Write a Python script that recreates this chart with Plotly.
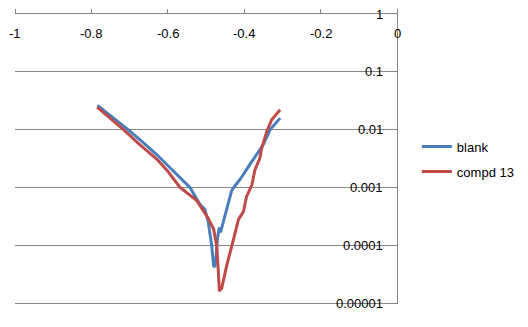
import math
import plotly.graph_objects as go

# ---- data ----
blank_x = [-0.784, -0.745, -0.704, -0.665, -0.629, -0.585, -0.542, -0.516, -0.503, -0.494,
           -0.485, -0.480, -0.477, -0.474, -0.470, -0.466, -0.464, -0.462, -0.455, -0.446,
           -0.433, -0.424, -0.41, -0.385, -0.35, -0.332, -0.306]
blank_y = [0.0263, 0.0166, 0.010, 0.0060, 0.0037, 0.0019, 0.0010, 0.00051, 0.00042, 0.00025,
           0.000098, 0.000044, 0.000042, 0.000058, 0.000129, 0.00019, 0.0002, 0.000166, 0.00025, 0.00042,
           0.00087, 0.00107, 0.0014, 0.0025, 0.0055, 0.010, 0.0158]

compd_x = [-0.785, -0.75, -0.716, -0.675, -0.629, -0.6, -0.568, -0.524, -0.494, -0.480,
           -0.472, -0.468, -0.465, -0.459, -0.446, -0.428, -0.415, -0.402, -0.394, -0.380,
           -0.372, -0.359, -0.354, -0.341, -0.328, -0.306]
compd_y = [0.0245, 0.0158, 0.010, 0.0056, 0.0031, 0.0019, 0.001, 0.00059, 0.00029, 0.00019,
           0.000098, 0.000038, 0.000016, 0.000018, 0.000044, 0.000126, 0.00028, 0.00038, 0.00069, 0.0011,
           0.002, 0.0032, 0.0048, 0.0093, 0.0148, 0.022]

x_tickvals = [-1, -0.8, -0.6, -0.4, -0.2, 0]
x_ticktext = ["-1", "-0.8", "-0.6", "-0.4", "-0.2", "0"]
y_tickvals = [0.00001, 0.0001, 0.001, 0.01, 0.1, 1]
y_ticktext = ["0.00001", "0.0001", "0.001", "0.01", "0.1", "1"]

BLUE = "#4A7EBB"
RED = "#BE4B48"
GRID = "#868686"
FONT = dict(family="Liberation Sans, Arial, sans-serif", size=13, color="#000000")

fig = go.Figure()
fig.add_trace(go.Scatter(x=blank_x, y=blank_y, mode="lines", name="blank",
                         legendgroup="a", line=dict(color=BLUE, width=3)))
fig.add_trace(go.Scatter(x=compd_x, y=compd_y, mode="lines", name="compd 13",
                         legendgroup="b", line=dict(color=RED, width=3)))

# tick labels drawn inside the plot area, placed through the axes
for v, t in zip(x_tickvals, x_ticktext):
    fig.add_annotation(x=v, xref="x", y=1, yref="paper", text=t, showarrow=False,
                       xanchor="center", yanchor="middle", yshift=-19, font=FONT)
for v, t in zip(y_tickvals, y_ticktext):
    fig.add_annotation(x=1, xref="paper", y=math.log10(v), yref="y", text=t, showarrow=False,
                       xanchor="right", yanchor="middle", xshift=-12, font=FONT)

# the page body adds an 8px offset, so the figure is sized 8px smaller
fig.update_layout(
    width=520, height=319,
    margin=dict(l=7, r=131, t=6, b=24, autoexpand=False),
    paper_bgcolor="white", plot_bgcolor="white",
    font=FONT,
    showlegend=True,
    legend=dict(x=1.052, xanchor="left", y=0.498, yanchor="middle",
                tracegroupgap=5, font=FONT, bgcolor="rgba(0,0,0,0)"),
    xaxis=dict(side="top", range=[-1, 0], tickvals=x_tickvals,
               ticks="outside", ticklen=4, tickcolor=GRID, showticklabels=False,
               showline=True, linecolor=GRID, linewidth=1, mirror=True, showgrid=False,
               zeroline=False, automargin=False),
    yaxis=dict(type="log", side="right", range=[-5, 0], tickvals=y_tickvals,
               ticks="", showticklabels=False,
               showline=True, linecolor=GRID, linewidth=1, showgrid=True,
               gridcolor=GRID, gridwidth=1, zeroline=False, automargin=False),
)

fig.write_html("out.html")
